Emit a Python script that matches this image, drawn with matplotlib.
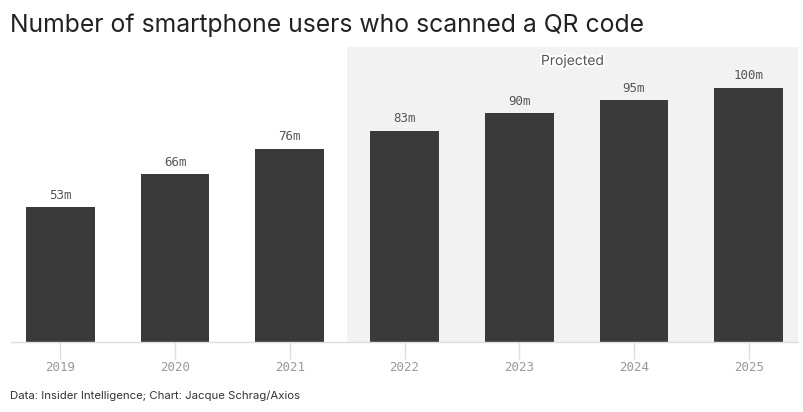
import matplotlib
matplotlib.use("Agg")
import matplotlib.pyplot as plt
import matplotlib.patheffects as pe

years = ["2019", "2020", "2021", "2022", "2023", "2024", "2025"]
users = [53, 66, 76, 83, 90, 95, 100]
labels = ["53m", "66m", "76m", "83m", "90m", "95m", "100m"]
projected_start = 3  # index of first projected year

fig = plt.figure(figsize=(8.04, 4.12), dpi=100)
ax = fig.add_axes([11/804, 1-342/412, 787/804, 295/412])

x = list(range(len(years)))
ax.set_xlim(-0.43, len(years) - 1 + 0.43)
ax.set_ylim(0, 116)

ax.axvspan(projected_start - 0.5, len(years) - 1 + 0.43, color="#f2f2f2", zorder=0, lw=0)
ax.bar(x, users, width=0.6, color="#3a3a3a", zorder=2)

for xi, v, lab in zip(x, users, labels):
    ax.text(xi, v + 2.2, lab, ha="center", va="bottom", fontsize=9,
            family="DejaVu Sans Mono", color="#555555", zorder=3)

ax.text((projected_start - 0.5 + len(years) - 1 + 0.43) / 2, 110.5, "Projected",
        ha="center", va="center", fontsize=10, family="Inter", color="#555555",
        path_effects=[pe.withStroke(linewidth=3, foreground="white")], zorder=3)

for s in ["top", "right", "left"]:
    ax.spines[s].set_visible(False)
ax.spines["bottom"].set_color("#dddddd")
ax.spines["bottom"].set_linewidth(1)
ax.set_yticks([])
ax.set_xticks(x)
ax.set_xticklabels(years, family="DejaVu Sans Mono", fontsize=9, color="#999999")
ax.tick_params(axis="x", length=12, color="#dddddd", width=1, pad=2)

fig.text(10/804, 1-25/412, "Number of smartphone users who scanned a QR code",
         ha="left", va="center", fontsize=17.8, family="Inter", color="#222222")
fig.text(10/804, 1-396/412, "Data: Insider Intelligence; Chart: Jacque Schrag/Axios",
         ha="left", va="center", fontsize=8.2, family="Inter", color="#333333")

fig.savefig("out.png", dpi=100)
